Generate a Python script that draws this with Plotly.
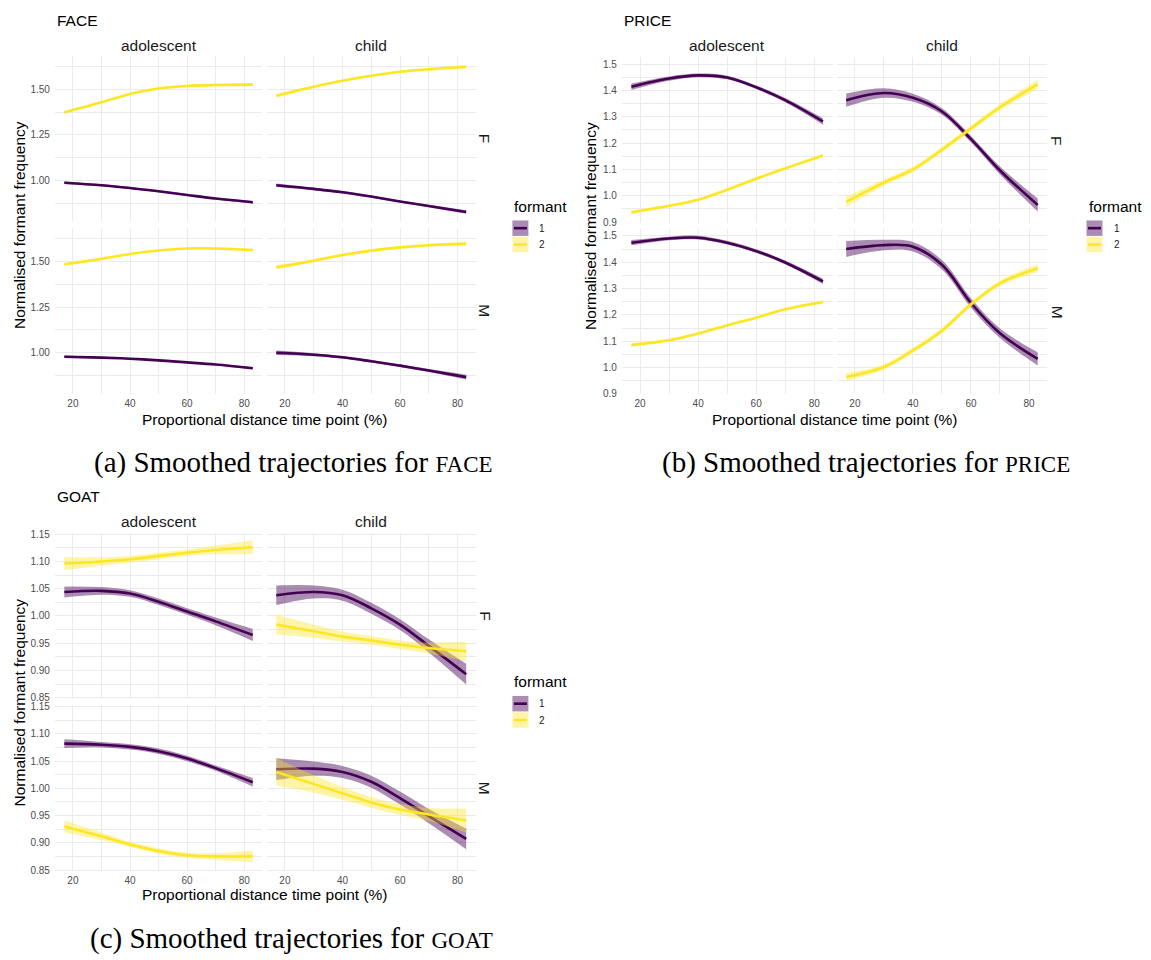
import plotly.graph_objects as go

W, H = 1151, 960

# ---------------------------------------------------------------- data
time_pct = [17, 30, 40, 50, 60, 70, 83]
x_ticks = [20, 40, 60, 80]
ages = ["adolescent", "child"]
sexes = ["F", "M"]
formants = ["1", "2"]

# FACE: smoothed normalised formant frequency (fit) and half-width of the band (ci)
face_adolescent_F_f1 = [0.987, 0.973, 0.958, 0.940, 0.920, 0.900, 0.880]
face_adolescent_F_f1_ci = [0.007, 0.005, 0.005, 0.005, 0.005, 0.005, 0.007]
face_adolescent_F_f2 = [1.373, 1.428, 1.474, 1.504, 1.518, 1.523, 1.525]
face_adolescent_F_f2_ci = [0.008, 0.005, 0.005, 0.005, 0.005, 0.005, 0.008]
face_child_F_f1 = [0.973, 0.953, 0.935, 0.911, 0.884, 0.859, 0.826]
face_child_F_f1_ci = [0.010, 0.007, 0.006, 0.006, 0.006, 0.007, 0.010]
face_child_F_f2 = [1.464, 1.514, 1.547, 1.574, 1.596, 1.610, 1.623]
face_child_F_f2_ci = [0.010, 0.007, 0.006, 0.006, 0.006, 0.007, 0.010]
face_adolescent_M_f1 = [0.978, 0.973, 0.967, 0.958, 0.947, 0.935, 0.915]
face_adolescent_M_f1_ci = [0.006, 0.004, 0.004, 0.004, 0.004, 0.004, 0.006]
face_adolescent_M_f2 = [1.485, 1.515, 1.542, 1.561, 1.572, 1.572, 1.564]
face_adolescent_M_f2_ci = [0.007, 0.005, 0.004, 0.004, 0.004, 0.005, 0.007]
face_child_M_f1 = [1.000, 0.989, 0.975, 0.953, 0.929, 0.902, 0.866]
face_child_M_f1_ci = [0.012, 0.008, 0.007, 0.007, 0.007, 0.008, 0.013]
face_child_M_f2 = [1.469, 1.505, 1.536, 1.560, 1.578, 1.590, 1.598]
face_child_M_f2_ci = [0.012, 0.008, 0.007, 0.007, 0.007, 0.008, 0.012]

# PRICE
price_adolescent_F_f1 = [1.414, 1.445, 1.457, 1.449, 1.412, 1.363, 1.282]
price_adolescent_F_f1_ci = [0.012, 0.008, 0.007, 0.007, 0.007, 0.008, 0.012]
price_adolescent_F_f2 = [0.937, 0.962, 0.985, 1.023, 1.065, 1.104, 1.153]
price_adolescent_F_f2_ci = [0.007, 0.005, 0.005, 0.005, 0.005, 0.005, 0.007]
price_child_F_f1 = [1.363, 1.390, 1.372, 1.320, 1.215, 1.096, 0.965]
price_child_F_f1_ci = [0.025, 0.018, 0.015, 0.012, 0.012, 0.015, 0.025]
price_child_F_f2 = [0.977, 1.050, 1.100, 1.175, 1.256, 1.336, 1.423]
price_child_F_f2_ci = [0.020, 0.012, 0.010, 0.010, 0.010, 0.012, 0.018]
price_adolescent_M_f1 = [1.474, 1.490, 1.493, 1.474, 1.442, 1.399, 1.327]
price_adolescent_M_f1_ci = [0.010, 0.007, 0.007, 0.007, 0.007, 0.007, 0.010]
price_adolescent_M_f2 = [1.086, 1.104, 1.129, 1.160, 1.189, 1.221, 1.249]
price_adolescent_M_f2_ci = [0.007, 0.005, 0.005, 0.005, 0.005, 0.005, 0.007]
price_child_M_f1 = [1.450, 1.465, 1.459, 1.390, 1.245, 1.130, 1.033]
price_child_M_f1_ci = [0.030, 0.020, 0.018, 0.018, 0.018, 0.018, 0.025]
price_child_M_f2 = [0.964, 1.002, 1.065, 1.140, 1.240, 1.320, 1.377]
price_child_M_f2_ci = [0.015, 0.010, 0.010, 0.010, 0.010, 0.010, 0.015]

# GOAT
goat_adolescent_F_f1 = [1.044, 1.046, 1.041, 1.026, 1.008, 0.990, 0.965]
goat_adolescent_F_f1_ci = [0.010, 0.007, 0.006, 0.006, 0.006, 0.007, 0.011]
goat_adolescent_F_f2 = [1.096, 1.100, 1.104, 1.110, 1.116, 1.121, 1.126]
goat_adolescent_F_f2_ci = [0.012, 0.008, 0.006, 0.006, 0.006, 0.008, 0.013]
goat_child_F_f1 = [1.038, 1.044, 1.038, 1.014, 0.984, 0.945, 0.893]
goat_child_F_f1_ci = [0.018, 0.012, 0.010, 0.010, 0.010, 0.012, 0.019]
goat_child_F_f2 = [0.984, 0.972, 0.962, 0.955, 0.947, 0.941, 0.935]
goat_child_F_f2_ci = [0.018, 0.012, 0.009, 0.008, 0.008, 0.010, 0.018]
goat_adolescent_M_f1 = [1.082, 1.080, 1.076, 1.068, 1.0545, 1.037, 1.011]
goat_adolescent_M_f1_ci = [0.008, 0.005, 0.005, 0.005, 0.005, 0.005, 0.008]
goat_adolescent_M_f2 = [0.930, 0.912, 0.897, 0.885, 0.877, 0.875, 0.875]
goat_adolescent_M_f2_ci = [0.011, 0.007, 0.005, 0.005, 0.005, 0.006, 0.011]
goat_child_M_f1 = [1.035, 1.036, 1.030, 1.012, 0.982, 0.949, 0.907]
goat_child_M_f1_ci = [0.020, 0.013, 0.011, 0.011, 0.012, 0.013, 0.019]
goat_child_M_f2 = [1.030, 1.008, 0.991, 0.974, 0.961, 0.952, 0.941]
goat_child_M_f2_ci = [0.025, 0.016, 0.012, 0.010, 0.010, 0.012, 0.022]

# ---------------------------------------------------------------- styling
FONT = "Liberation Sans"
SERIF = "Liberation Serif"
LINE_COL = {"1": "#440154", "2": "#FDE725"}
BAND_COL = {"1": "rgba(68,1,84,0.45)", "2": "rgba(253,231,37,0.40)"}
GRID = "#EBEBEB"
TICK_COL = "#4D4D4D"
TEXT_COL = "#1A1A1A"


def fx(p):
    return p / W


def fy(p):
    return 1 - p / H


# block geometry in pixels: panel columns, panel rows, y scale, label anchors
blocks = [
    dict(name="FACE", key="face", caption="(a) Smoothed trajectories for ", cap_x=293, cap_y=463,
         cols=[(54.9, 262.2), (266.8, 475.7)], rows=[(52.0, 219.4), (226.0, 393.4)],
         yrange=[0.775, 1.685], dtick=0.25, fmt=".2f",
         title_y=17, strip_y=42, strip_x=484.6, ytitle_x=19.4, xtitle_y=419,
         leg_x=512.4, leg_title_y=204, leg_key_y=[226.3, 242.8]),
    dict(name="PRICE", key="price", caption="(b) Smoothed trajectories for ", cap_x=866, cap_y=463,
         cols=[(621.8, 832.5), (836.6, 1047.3)], rows=[(54.0, 220.6), (227.4, 394.0)],
         yrange=[0.8985, 1.525], dtick=0.1, fmt=".1f",
         title_y=17, strip_y=42, strip_x=1057, ytitle_x=591, xtitle_y=419,
         leg_x=1086.5, leg_title_y=204, leg_key_y=[226.3, 242.8]),
    dict(name="GOAT", key="goat", caption="(c) Smoothed trajectories for ", cap_x=291, cap_y=943,
         cols=[(54.9, 262.2), (266.8, 475.7)], rows=[(534.1, 701.3), (708.1, 875.3)],
         yrange=[0.848, 1.152], dtick=0.05, fmt=".2f",
         title_y=497, strip_y=522, strip_x=484.6, ytitle_x=19.4, xtitle_y=899,
         leg_x=512.4, leg_title_y=684, leg_key_y=[706.3, 722.8]),
]

fig = go.Figure()
layout = dict(width=W, height=H, margin=dict(l=0, r=0, t=0, b=0),
              paper_bgcolor="white", plot_bgcolor="white", showlegend=False,
              font=dict(family=FONT, color=TEXT_COL))
annotations = []
shapes = []

k = 0
for b in blocks:
    for r, sex in enumerate(sexes):
        for c, age in enumerate(ages):
            k += 1
            xa = "xaxis" if k == 1 else f"xaxis{k}"
            ya = "yaxis" if k == 1 else f"yaxis{k}"
            xref = "x" if k == 1 else f"x{k}"
            yref = "y" if k == 1 else f"y{k}"
            l, rr = b["cols"][c]
            top, bot = b["rows"][r]
            layout[xa] = dict(
                domain=[fx(l), fx(rr)], range=[13.7, 86.3], anchor=yref,
                tickmode="array", tickvals=x_ticks, ticktext=[str(v) for v in x_ticks],
                showticklabels=(r == 1), ticks="", ticklabelstandoff=2,
                tickfont=dict(size=10, color=TICK_COL, family=FONT),
                showgrid=True, gridcolor=GRID, gridwidth=1.1,
                minor=dict(tickvals=[30, 50, 70], showgrid=True, gridcolor=GRID, gridwidth=0.6),
                zeroline=False, showline=False, fixedrange=True)
            layout[ya] = dict(
                domain=[fy(bot), fy(top)], range=b["yrange"], anchor=xref,
                tickmode="linear", tick0=1.0, dtick=b["dtick"], tickformat=b["fmt"],
                showticklabels=(c == 0), ticks="", ticklabelstandoff=4,
                tickfont=dict(size=10, color=TICK_COL, family=FONT),
                showgrid=True, gridcolor=GRID, gridwidth=1.1,
                minor=dict(dtick=b["dtick"] / 2, tick0=1.0, showgrid=True,
                           gridcolor=GRID, gridwidth=0.6),
                zeroline=False, showline=False, fixedrange=True)
            for f in formants:
                fit = globals()[f"{b['key']}_{age}_{sex}_f{f}"]
                ci = globals()[f"{b['key']}_{age}_{sex}_f{f}_ci"]
                upper = [m + e for m, e in zip(fit, ci)]
                lower = [m - e for m, e in zip(fit, ci)]
                fig.add_trace(go.Scatter(
                    x=time_pct, y=upper, xaxis=xref, yaxis=yref, mode="lines",
                    line=dict(width=0, shape="spline", color=BAND_COL[f]),
                    hoverinfo="skip"))
                fig.add_trace(go.Scatter(
                    x=time_pct, y=lower, xaxis=xref, yaxis=yref, mode="lines",
                    line=dict(width=0, shape="spline", color=BAND_COL[f]),
                    fill="tonexty", fillcolor=BAND_COL[f], hoverinfo="skip"))
                fig.add_trace(go.Scatter(
                    x=time_pct, y=fit, xaxis=xref, yaxis=yref, mode="lines",
                    line=dict(width=2.6, shape="spline", color=LINE_COL[f]),
                    name=f"formant {f}"))

    # facet strips on top
    for c, age in enumerate(ages):
        l, rr = b["cols"][c]
        annotations.append(dict(
            x=fx((l + rr) / 2), y=fy(b["strip_y"]), xref="paper", yref="paper",
            text=age, showarrow=False, xanchor="center", yanchor="middle",
            font=dict(size=15.5, color=TEXT_COL, family=FONT)))
    # facet strips on the right
    for r, sex in enumerate(sexes):
        top, bot = b["rows"][r]
        annotations.append(dict(
            x=fx(b["strip_x"]), y=fy((top + bot) / 2), xref="paper", yref="paper",
            text=sex, showarrow=False, textangle=90, xanchor="center", yanchor="middle",
            font=dict(size=15.5, color=TEXT_COL, family=FONT)))
    # plot title
    annotations.append(dict(
        x=fx(b["cols"][0][0]), y=fy(b["title_y"]), xref="paper", yref="paper",
        text=b["name"], showarrow=False, xanchor="left", yanchor="middle",
        font=dict(size=15.5, color="black", family=FONT)))
    # axis titles
    annotations.append(dict(
        x=fx(b["ytitle_x"]), y=fy((b["rows"][0][0] + b["rows"][1][1]) / 2),
        xref="paper", yref="paper", text="Normalised formant frequency",
        showarrow=False, textangle=-90, xanchor="center", yanchor="middle",
        font=dict(size=15.5, color="black", family=FONT)))
    annotations.append(dict(
        x=fx((b["cols"][0][0] + b["cols"][1][1]) / 2), y=fy(b["xtitle_y"]),
        xref="paper", yref="paper", text="Proportional distance time point (%)",
        showarrow=False, xanchor="center", yanchor="middle",
        font=dict(size=15.5, color="black", family=FONT)))
    # legend
    annotations.append(dict(
        x=fx(b["leg_x"]), y=fy(b["leg_title_y"]), xref="paper", yref="paper",
        text="formant", showarrow=False, xanchor="left", yanchor="middle",
        font=dict(size=15.5, color="black", family=FONT)))
    for f, cy in zip(formants, b["leg_key_y"]):
        x0, x1 = b["leg_x"], b["leg_x"] + 16
        shapes.append(dict(type="rect", xref="paper", yref="paper",
                           x0=fx(x0), x1=fx(x1), y0=fy(cy + 7.8), y1=fy(cy - 7.8),
                           fillcolor=BAND_COL[f], line=dict(width=0)))
        shapes.append(dict(type="line", xref="paper", yref="paper",
                           x0=fx(x0 + 1.5), x1=fx(x1 - 1.5), y0=fy(cy), y1=fy(cy),
                           line=dict(color=LINE_COL[f], width=2.6)))
        annotations.append(dict(
            x=fx(x1 + 9), y=fy(cy), xref="paper", yref="paper", text=f,
            showarrow=False, xanchor="left", yanchor="middle",
            font=dict(size=10, color=TEXT_COL, family=FONT)))
    # caption with small-caps vowel label
    annotations.append(dict(
        x=fx(b["cap_x"]), y=fy(b["cap_y"]), xref="paper", yref="paper",
        text=b["caption"] + f"<span style='font-size:23px'>{b['name']}</span>",
        showarrow=False, xanchor="center", yanchor="middle",
        font=dict(size=29, color="black", family=SERIF)))

layout["annotations"] = annotations
layout["shapes"] = shapes
fig.update_layout(**layout)
fig.write_html("out.html")
